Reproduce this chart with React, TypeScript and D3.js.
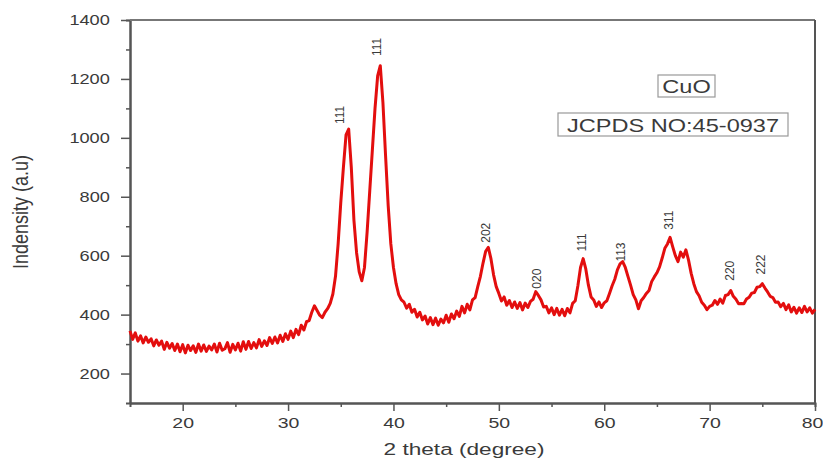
import * as d3 from 'd3';
import React, { useRef, useEffect } from 'react';

// 2 theta grid, 0.25 degree steps from 15 to 80
const twoTheta: number[] = d3.range(15, 80.001, 0.25);

// intensity, 4 values per degree
const intensity: number[] = [
  345, 316, 338, 310, // 15
  328, 304, 324, 306, // 16
  318, 294, 314, 296, // 17
  310, 282, 306, 286, // 18
  302, 278, 300, 274, // 19
  298, 270, 296, 278, // 20
  294, 272, 300, 276, // 21
  297, 275, 293, 280, // 22
  300, 273, 303, 279, // 23
  284, 305, 272, 299, // 24
  280, 303, 276, 308, // 25
  282, 309, 285, 305, // 26
  287, 315, 292, 311, // 27
  295, 322, 302, 324, // 28
  304, 330, 309, 335, // 29
  316, 344, 322, 350, // 30
  332, 364, 348, 376, // 31
  380, 408, 430, 414, // 32
  398, 390, 408, 420, // 33
  438, 470, 530, 640, // 34
  780, 900, 1010, 1030, // 35
  900, 720, 610, 545, // 36
  515, 560, 680, 820, // 37
  960, 1100, 1210, 1245, // 38
  1120, 940, 770, 640, // 39
  560, 505, 468, 450, // 40
  442, 422, 435, 408, // 41
  418, 392, 408, 382, // 42
  395, 368, 390, 366, // 43
  388, 364, 385, 372, // 44
  398, 374, 402, 386, // 45
  412, 394, 428, 406, // 46
  435, 416, 450, 458, // 47
  495, 530, 575, 615, // 48
  628, 590, 535, 495, // 49
  472, 446, 460, 432, // 50
  448, 424, 443, 421, // 51
  441, 416, 439, 424, // 52
  445, 452, 478, 465, // 53
  450, 426, 428, 406, // 54
  423, 400, 421, 398, // 55
  418, 396, 421, 406, // 56
  438, 447, 498, 560, // 57
  590, 555, 500, 460, // 58
  450, 428, 443, 424, // 59
  440, 447, 472, 498, // 60
  520, 552, 572, 580, // 61
  560, 530, 500, 468, // 62
  450, 420, 447, 458, // 63
  472, 482, 512, 528, // 64
  542, 562, 592, 625, // 65
  640, 662, 630, 600, // 66
  580, 612, 595, 620, // 67
  585, 540, 505, 478, // 68
  464, 442, 432, 417, // 69
  428, 432, 448, 435, // 70
  453, 439, 465, 468, // 71
  482, 462, 452, 437, // 72
  438, 437, 453, 459, // 73
  473, 475, 493, 495, // 74
  505, 490, 477, 462, // 75
  458, 442, 443, 427, // 76
  438, 417, 433, 409, // 77
  425, 405, 423, 407, // 78
  428, 409, 423, 405, // 79
  418, // 80
];

// peak indexing (hkl), label position in degrees and intensity at the label foot
const peakHkl: string[] = ['111', '111', '202', '020', '111', '113', '311', '220', '222'];
const peakAt: number[] = [34.9, 38.4, 48.8, 53.6, 57.9, 61.6, 66.1, 71.9, 74.9];
const peakFoot: number[] = [1047, 1278, 644, 488, 614, 580, 688, 515, 536];

const xTicks: number[] = [20, 30, 40, 50, 60, 70, 80];
const yTicks: number[] = [200, 400, 600, 800, 1000, 1200, 1400];

function XrdChart({ width, height }: { width: number; height: number }) {
  const ref = useRef<SVGSVGElement>(null);

  useEffect(() => {
    draw();
  }, []);

  const draw = () => {
    const svg = d3.select(ref.current);
    svg.selectAll('*').remove();

    const margin = { top: 20, right: 8, bottom: 62, left: 130 };
    const w = width - margin.left - margin.right;
    const h = height - margin.top - margin.bottom;
    const axisColor = '#555';
    const textColor = '#3a3a3a';
    const font = '"Liberation Sans", Arial, sans-serif';

    const g = svg.append('g').attr('transform', `translate(${margin.left},${margin.top})`);

    const x = d3.scaleLinear().domain([15, 80]).range([0, w]);
    const y = d3.scaleLinear().domain([100, 1400]).range([h, 0]);

    // minor ticks
    const xMinor = d3.axisBottom(x).tickValues(d3.range(25, 80, 10)).tickSize(4).tickFormat(() => '');
    const yMinor = d3.axisLeft(y).tickValues(d3.range(300, 1400, 200)).tickSize(4).tickFormat(() => '');
    g.append('g').attr('transform', `translate(0,${h})`).call(xMinor);
    g.append('g').call(yMinor);

    const xAxis = g.append('g')
      .attr('transform', `translate(0,${h})`)
      .call(d3.axisBottom(x).tickValues(xTicks).tickFormat(d3.format('d')).tickSize(8).tickSizeOuter(0));
    xAxis.selectAll('text')
      .attr('y', 14)
      .attr('transform', 'scale(1.3,1)')
      .style('font-size', '15px');
    // last label sits against the page edge
    xAxis.selectAll('text').filter(d => d === 80)
      .attr('text-anchor', 'end')
      .attr('x', 6);

    const yAxis = g.append('g')
      .call(d3.axisLeft(y).tickValues(yTicks).tickFormat(d3.format('d')).tickSize(9).tickSizeOuter(0));
    yAxis.selectAll('text')
      .attr('x', -15.5)
      .attr('transform', 'scale(1.3,1)')
      .style('font-size', '14px');

    g.selectAll('.domain').attr('stroke', axisColor).attr('stroke-width', 2);
    g.selectAll('.tick line').attr('stroke', axisColor).attr('stroke-width', 1.5);
    g.selectAll('.tick text')
      .attr('fill', textColor)
      .style('font-family', font);

    // frame top and right
    g.append('line')
      .attr('x1', 0).attr('x2', w).attr('y1', 0).attr('y2', 0)
      .attr('stroke', '#777').attr('stroke-width', 2);
    g.append('line')
      .attr('x1', w).attr('x2', w).attr('y1', 0).attr('y2', h)
      .attr('stroke', axisColor).attr('stroke-width', 2);

    // pattern
    const pts = twoTheta.map((t, i) => [t, intensity[i]] as [number, number]);
    const line = d3.line<[number, number]>()
      .x(d => x(d[0]))
      .y(d => y(d[1]));
    g.append('path')
      .datum(pts)
      .attr('d', line)
      .attr('fill', 'none')
      .attr('stroke', '#e30e0e')
      .attr('stroke-width', 3)
      .attr('stroke-linejoin', 'round');

    // hkl labels
    g.selectAll('.hkl')
      .data(peakHkl)
      .enter()
      .append('text')
      .attr('class', 'hkl')
      .attr('transform', (d, i) => `translate(${x(peakAt[i])},${y(peakFoot[i])}) rotate(-90)`)
      .attr('dominant-baseline', 'central')
      .attr('fill', textColor)
      .style('font-family', font)
      .style('font-size', '12px')
      .text(d => d);

    // legend boxes
    const boxes = [
      { label: 'CuO', x0: 658 - margin.left, y0: 75 - margin.top, bw: 57, bh: 22 },
      { label: 'JCPDS NO:45-0937', x0: 558 - margin.left, y0: 113 - margin.top, bw: 230, bh: 23 },
    ];
    boxes.forEach(b => {
      g.append('rect')
        .attr('x', b.x0).attr('y', b.y0)
        .attr('width', b.bw).attr('height', b.bh)
        .attr('fill', 'white')
        .attr('stroke', '#999')
        .attr('stroke-width', 1.2);
      const cx = b.x0 + b.bw / 2;
      g.append('text')
        .attr('transform', `translate(${cx},${b.y0 + b.bh / 2 + 7}) scale(1.24,1)`)
        .attr('text-anchor', 'middle')
        .attr('fill', textColor)
        .style('font-family', font)
        .style('font-size', '19px')
        .text(b.label);
    });

    // axis titles
    g.append('text')
      .attr('transform', `translate(${464 - margin.left},${455 - margin.top}) scale(1.33,1)`)
      .attr('text-anchor', 'middle')
      .attr('fill', textColor)
      .style('font-family', font)
      .style('font-size', '17px')
      .text('2 theta (degree)');

    g.append('text')
      .attr('transform', `translate(${28 - margin.left},${212 - margin.top}) scale(1.2,1) rotate(-90)`)
      .attr('text-anchor', 'middle')
      .attr('fill', textColor)
      .style('font-family', font)
      .style('font-size', '18px')
      .text('Indensity (a.u)');
  };

  return (
    <svg ref={ref} width={width} height={height}
      style={{ position: 'absolute', left: 0, top: 0, background: 'white' }} />
  );
}

export default function App() {
  return <XrdChart width={823} height={465} />;
}
